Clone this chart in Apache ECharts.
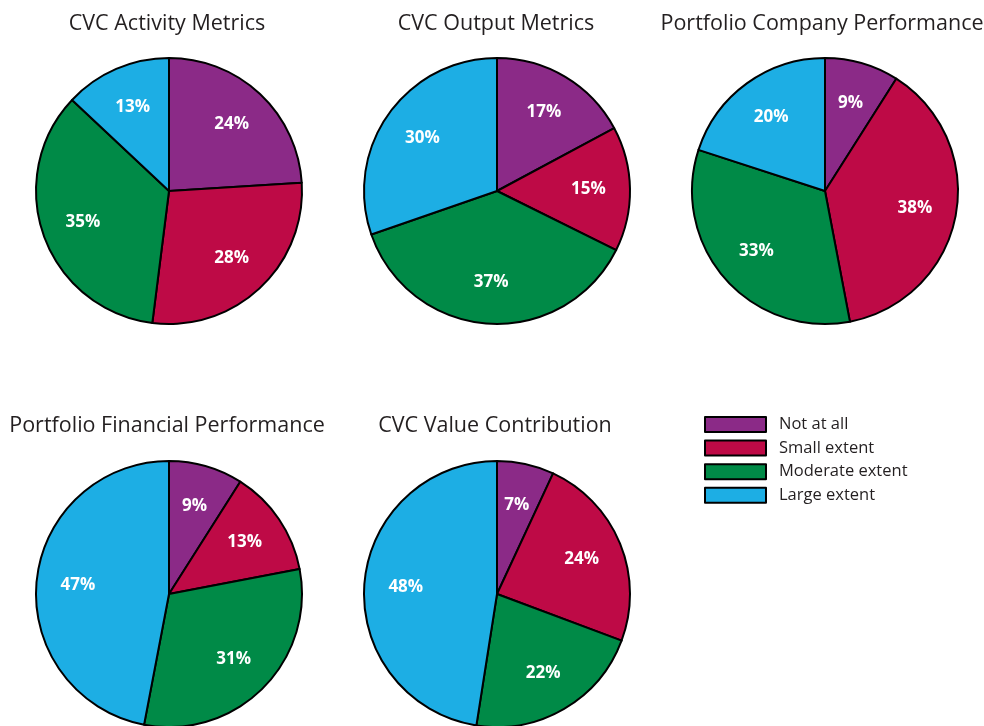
<!DOCTYPE html>
<html><head><meta charset="utf-8">
<script src="https://cdn.jsdelivr.net/npm/echarts@6/dist/echarts.min.js"></script>
<style>html,body{margin:0;padding:0;background:#fff}#c{width:984px;height:726px}</style>
</head><body><div id="c"></div>
<script>
const categories = ['Not at all', 'Small extent', 'Moderate extent', 'Large extent'];
const colors = ['#8B2A87', '#BE0A46', '#008A47', '#1DAEE4'];
const titles = ['CVC Activity Metrics', 'CVC Output Metrics', 'Portfolio Company Performance', 'Portfolio Financial Performance', 'CVC Value Contribution'];
const activity = [24, 28, 35, 13];
const output = [17, 15, 37, 30];
const company = [9, 38, 33, 20];
const financial = [9, 13, 31, 47];
const contribution = [7, 24, 22, 48];
const allValues = [activity, output, company, financial, contribution];

const centers = [[169, 191], [497, 191], [825, 191], [169, 594], [497, 594]];
const titleCenters = [167, 496, 822, 167, 495];
const titleY = [13, 13, 13, 415, 415];
const R = 133;
const font = '"Open Sans", "Noto Sans", sans-serif';

const series = [];
const title = [];
allValues.forEach((vals, i) => {
  const data = vals.map((v, k) => ({ name: categories[k], value: v, itemStyle: { color: colors[k] } }));
  series.push({
    type: 'pie', center: centers[i], radius: [0, R], startAngle: 90, clockwise: true,
    silent: true, animation: false,
    itemStyle: { borderColor: '#000', borderWidth: 2 },
    label: { show: false }, labelLine: { show: false },
    data
  });
  series.push({
    type: 'pie', center: centers[i], radius: [44, R], startAngle: 90, clockwise: true,
    silent: true, animation: false, legendHoverLink: false,
    itemStyle: { color: 'transparent', borderWidth: 0 },
    label: { show: true, position: 'inside', formatter: '{c}%', color: '#fff', fontWeight: 'bold', fontSize: 17, fontFamily: font },
    labelLine: { show: false },
    data: vals.map((v, k) => ({ name: categories[k] + ' ', value: v }))
  });
  title.push({
    text: titles[i], left: titleCenters[i], top: titleY[i], textAlign: 'center', padding: 0,
    textStyle: { fontFamily: font, fontWeight: 'normal', fontSize: 21.5, color: '#231F20' }
  });
});

const chart = echarts.init(document.getElementById('c'), null, { renderer: 'canvas' });
chart.setOption({
  animation: false,
  title,
  legend: {
    data: categories.map((c, k) => ({ name: c, itemStyle: { color: colors[k], borderColor: '#000', borderWidth: 2 } })),
    orient: 'vertical', left: 704, top: 416, padding: 0, itemWidth: 61, itemHeight: 15, itemGap: 6.6, icon: 'rect',
    selectedMode: false,
    textStyle: { fontFamily: font, fontSize: 16.5, color: '#231F20', padding: [0, 0, 0, 8] }
  },
  series
});
</script></body></html>
